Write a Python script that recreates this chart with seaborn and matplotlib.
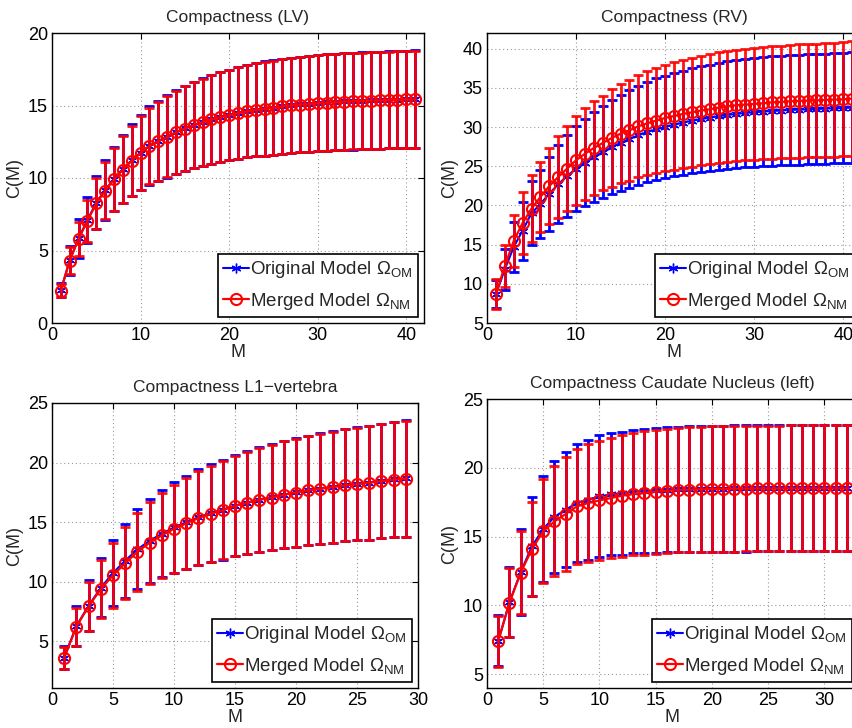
import numpy as np
import matplotlib
matplotlib.use("Agg")
import matplotlib.pyplot as plt
import seaborn as sns
import pandas as pd

# ---------------- data ----------------
lv_M = list(range(1, 42))
lv_orig_mean = [2.26, 4.33, 5.83, 7.10, 8.30, 9.17, 9.93, 10.60, 11.22, 11.75, 12.24, 12.56, 12.86, 13.16,
                13.43, 13.66, 13.87, 14.06, 14.22, 14.35, 14.49, 14.61, 14.72, 14.79, 14.86, 14.95, 15.02,
                15.07, 15.12, 15.16, 15.21, 15.25, 15.28, 15.30, 15.32, 15.35, 15.37, 15.39, 15.41, 15.42, 15.44]
lv_merg_mean = [2.24, 4.30, 5.80, 7.05, 8.25, 9.12, 9.90, 10.57, 11.19, 11.72, 12.21, 12.53, 12.84, 13.14,
                13.41, 13.64, 13.85, 14.04, 14.20, 14.34, 14.48, 14.60, 14.71, 14.78, 14.85, 14.94, 15.01,
                15.06, 15.11, 15.16, 15.20, 15.24, 15.27, 15.30, 15.32, 15.34, 15.36, 15.38, 15.40, 15.42, 15.43]
lv_orig_std = [0.47, 1.00, 1.32, 1.60, 1.85, 2.04, 2.20, 2.34, 2.48, 2.60, 2.70, 2.76, 2.83, 2.90, 2.94,
               2.97, 3.02, 3.06, 3.10, 3.13, 3.17, 3.19, 3.22, 3.25, 3.26, 3.27, 3.29, 3.30, 3.31, 3.32,
               3.33, 3.33, 3.34, 3.34, 3.34, 3.35, 3.35, 3.35, 3.35, 3.36, 3.36]
lv_merg_std = [0.45, 0.95, 1.20, 1.45, 1.75, 1.98, 2.15, 2.30, 2.42, 2.55, 2.65, 2.72, 2.80, 2.87, 2.92,
               2.96, 3.01, 3.05, 3.09, 3.12, 3.16, 3.18, 3.21, 3.24, 3.25, 3.26, 3.28, 3.29, 3.30, 3.31,
               3.32, 3.32, 3.33, 3.33, 3.33, 3.34, 3.34, 3.34, 3.34, 3.35, 3.35]

rv_M = list(range(1, 42))
rv_orig_mean = [8.66, 11.85, 14.70, 16.80, 19.00, 20.20, 21.50, 22.70, 23.76, 24.70, 25.46, 26.20, 26.80,
                27.46, 27.97, 28.50, 28.95, 29.37, 29.70, 30.00, 30.30, 30.56, 30.80, 31.00, 31.20, 31.37,
                31.54, 31.67, 31.80, 31.88, 31.97, 32.05, 32.10, 32.18, 32.22, 32.26, 32.30, 32.35, 32.40,
                32.43, 32.48]
rv_merg_mean = [8.66, 12.27, 15.46, 17.76, 19.59, 21.08, 22.48, 23.63, 24.70, 25.76, 26.60, 27.33, 27.97,
                28.60, 29.16, 29.58, 30.10, 30.48, 30.82, 31.16, 31.41, 31.67, 31.88, 32.10, 32.26, 32.48,
                32.65, 32.78, 32.86, 32.95, 33.03, 33.16, 33.20, 33.29, 33.33, 33.37, 33.41, 33.46, 33.50,
                33.54, 33.63]
rv_orig_std = [1.80, 2.60, 3.20, 3.70, 4.10, 4.35, 4.70, 4.95, 5.20, 5.40, 5.57, 5.70, 5.86, 6.00, 6.10,
               6.25, 6.35, 6.43, 6.50, 6.55, 6.60, 6.65, 6.70, 6.74, 6.78, 6.82, 6.85, 6.88, 6.90, 6.92,
               6.94, 6.96, 6.97, 6.99, 7.00, 7.01, 7.02, 7.03, 7.04, 7.05, 7.06]
rv_merg_std = [1.90, 2.70, 3.30, 3.90, 4.25, 4.50, 4.85, 5.20, 5.45, 5.70, 5.85, 6.00, 6.05, 6.20, 6.30,
               6.45, 6.53, 6.64, 6.70, 6.80, 6.85, 6.90, 6.94, 6.98, 7.02, 7.05, 7.08, 7.10, 7.12, 7.14,
               7.16, 7.18, 7.20, 7.21, 7.22, 7.24, 7.25, 7.26, 7.27, 7.28, 7.30]

l1_M = list(range(1, 30))
l1_orig_mean = [3.65, 6.30, 8.00, 9.50, 10.75, 11.78, 12.72, 13.45, 14.03, 14.56, 15.00, 15.42, 15.76,
                16.06, 16.40, 16.65, 16.90, 17.09, 17.32, 17.51, 17.69, 17.83, 17.97, 18.11, 18.22, 18.33,
                18.47, 18.59, 18.67]
l1_merg_mean = [3.63, 6.25, 7.95, 9.40, 10.55, 11.56, 12.52, 13.28, 13.90, 14.45, 14.90, 15.35, 15.70,
                16.02, 16.37, 16.62, 16.88, 17.07, 17.30, 17.49, 17.67, 17.81, 17.95, 18.09, 18.20, 18.31,
                18.45, 18.57, 18.65]
l1_orig_std = [0.96, 1.65, 2.14, 2.47, 2.80, 3.10, 3.35, 3.52, 3.65, 3.78, 3.90, 4.03, 4.12, 4.20, 4.25,
               4.34, 4.38, 4.44, 4.50, 4.55, 4.58, 4.63, 4.68, 4.72, 4.75, 4.78, 4.81, 4.84, 4.88]
l1_merg_std = [0.94, 1.60, 2.08, 2.40, 2.72, 3.02, 3.25, 3.42, 3.56, 3.68, 3.80, 3.93, 4.04, 4.13, 4.20,
               4.30, 4.35, 4.42, 4.48, 4.53, 4.56, 4.61, 4.66, 4.70, 4.73, 4.76, 4.79, 4.82, 4.86]

cn_M = list(range(1, 33))
cn_orig_mean = [7.42, 10.24, 12.42, 14.30, 15.56, 16.43, 16.96, 17.44, 17.68, 17.92, 18.07, 18.16, 18.26,
                18.31, 18.36, 18.41, 18.43, 18.45, 18.47, 18.48, 18.49, 18.50, 18.50, 18.51, 18.51, 18.51,
                18.52, 18.52, 18.52, 18.52, 18.52, 18.52]
cn_merg_mean = [7.40, 10.20, 12.38, 14.10, 15.39, 16.11, 16.64, 17.20, 17.44, 17.63, 17.80, 17.97, 18.09,
                18.16, 18.26, 18.33, 18.38, 18.41, 18.44, 18.46, 18.47, 18.48, 18.49, 18.50, 18.50, 18.50,
                18.51, 18.51, 18.51, 18.51, 18.51, 18.51]
cn_orig_std = [1.85, 2.54, 3.14, 3.58, 3.88, 4.08, 4.20, 4.30, 4.37, 4.43, 4.44, 4.47, 4.48, 4.51, 4.54,
               4.55, 4.57, 4.57, 4.58, 4.58, 4.58, 4.59, 4.59, 4.59, 4.59, 4.59, 4.59, 4.59, 4.59, 4.59,
               4.59, 4.59]
cn_merg_std = [1.85, 2.50, 3.00, 3.45, 3.78, 4.00, 4.14, 4.20, 4.28, 4.33, 4.38, 4.42, 4.45, 4.48, 4.50,
               4.52, 4.53, 4.55, 4.55, 4.56, 4.56, 4.57, 4.57, 4.57, 4.57, 4.57, 4.57, 4.57, 4.57, 4.57,
               4.57, 4.57]

titles = ["Compactness (LV)", "Compactness (RV)", "Compactness L1\u2212vertebra",
          "Compactness Caudate Nucleus (left)"]
labels = [r"Original Model $\Omega_{\mathrm{OM}}$", r"Merged Model $\Omega_{\mathrm{NM}}$"]

# ---------------- style ----------------
sns.set_theme(style="white")
plt.rcParams.update({
    "font.family": ["Liberation Sans", "DejaVu Sans"],
    "mathtext.fontset": "custom",
    "mathtext.rm": "Liberation Sans",
    "mathtext.it": "Liberation Sans:italic",
    "mathtext.bf": "Liberation Sans:bold",
    "axes.edgecolor": "black",
    "axes.linewidth": 1.0,
    "xtick.direction": "in",
    "ytick.direction": "in",
})

W, H = 853, 728
fig = plt.figure(figsize=(W / 100, H / 100), dpi=100)


def rect(left, top, width, height):
    return [left / W, (H - top - height) / H, width / W, height / H]


panels = [
    dict(pos=rect(52, 33, 372, 290), M=lv_M, om=lv_orig_mean, os=lv_orig_std, nm=lv_merg_mean,
         ns=lv_merg_std, xlim=(0, 42), ylim=(0, 20), xt=range(0, 41, 10), yt=range(0, 21, 5)),
    dict(pos=rect(487, 33, 374, 290), M=rv_M, om=rv_orig_mean, os=rv_orig_std, nm=rv_merg_mean,
         ns=rv_merg_std, xlim=(0, 42), ylim=(5, 42), xt=range(0, 41, 10), yt=range(5, 41, 5)),
    dict(pos=rect(52, 403, 366, 285), M=l1_M, om=l1_orig_mean, os=l1_orig_std, nm=l1_merg_mean,
         ns=l1_merg_std, xlim=(0, 30), ylim=(1.1, 25), xt=range(0, 31, 5), yt=range(5, 26, 5)),
    dict(pos=rect(487, 399, 371, 289), M=cn_M, om=cn_orig_mean, os=cn_orig_std, nm=cn_merg_mean,
         ns=cn_merg_std, xlim=(0, 33), ylim=(4, 25), xt=range(0, 31, 5), yt=range(5, 26, 5)),
]

BLUE = (0, 0, 1)
RED = (1, 0, 0)
ASTERISK = (6, 2, 0)

for p, title in zip(panels, titles):
    ax = fig.add_axes(p["pos"])
    ax.grid(True, linestyle=(0, (1, 2.5)), color="#9a9a9a", linewidth=0.8)
    ax.set_axisbelow(True)

    # original model
    ax.errorbar(p["M"], p["om"], yerr=p["os"], fmt="none", ecolor=BLUE, elinewidth=2.0,
                capsize=3.5, capthick=2.0, zorder=2)
    df_o = pd.DataFrame({"M": p["M"], "C": p["om"]})
    sns.lineplot(data=df_o, x="M", y="C", ax=ax, color=BLUE, linewidth=1.5, marker=ASTERISK,
                 markersize=7, markeredgecolor=BLUE, markerfacecolor=BLUE, markeredgewidth=1.0,
                 zorder=3, label=labels[0])

    # merged model
    ax.errorbar(p["M"], p["nm"], yerr=p["ns"], fmt="none", ecolor=RED, elinewidth=2.0,
                capsize=3.5, capthick=2.0, zorder=4, alpha=0.92)
    df_n = pd.DataFrame({"M": p["M"], "C": p["nm"]})
    sns.lineplot(data=df_n, x="M", y="C", ax=ax, color=RED, linewidth=1.6, marker="o",
                 markersize=8, markeredgecolor=RED, markerfacecolor="none", markeredgewidth=1.5,
                 zorder=5, label=labels[1])

    ax.set_xlim(*p["xlim"])
    ax.set_ylim(*p["ylim"])
    ax.set_xticks(list(p["xt"]))
    ax.set_yticks(list(p["yt"]))
    ax.tick_params(axis="both", labelsize=13, length=4, width=0.8, top=True, right=True,
                   colors="black", pad=3)
    ax.set_title(title, fontsize=12.5, pad=8)
    ax.set_xlabel("M", fontsize=13, labelpad=0)
    ax.set_ylabel("C(M)", fontsize=13, labelpad=3)
    for s in ax.spines.values():
        s.set_color("black")
        s.set_visible(True)

    leg = ax.legend(loc="lower right", fontsize=13.5, frameon=True, fancybox=False,
                    edgecolor="black", framealpha=1, borderaxespad=0.3, handlelength=1.35,
                    handletextpad=0.1, labelspacing=0.55, borderpad=0.3)
    leg.get_frame().set_linewidth(1.2)

fig.savefig("out.png", dpi=100)
